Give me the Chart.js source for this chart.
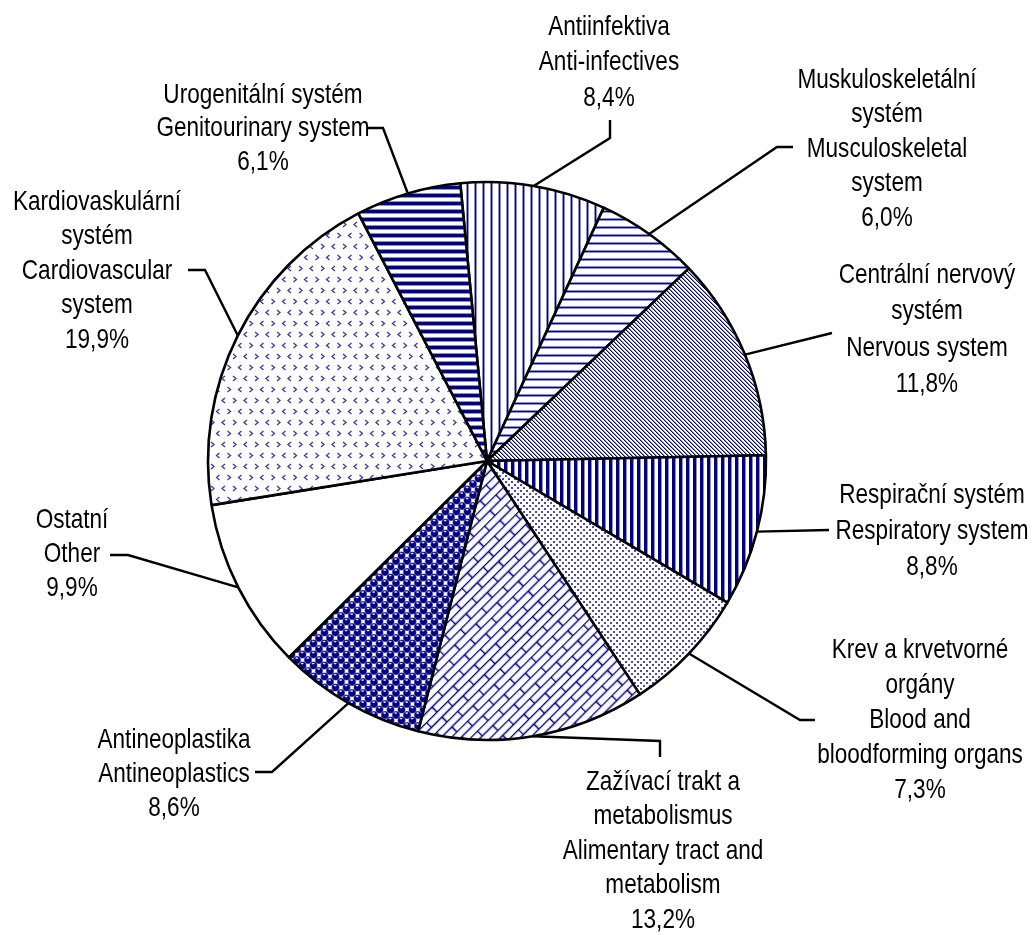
<!DOCTYPE html>
<html>
<head>
<meta charset="utf-8">
<script src="https://cdn.jsdelivr.net/npm/chart.js@4.4.1/dist/chart.umd.min.js"></script>
<style>
html,body{margin:0;padding:0;background:#fff;}
#wrap{width:1036px;height:935px;position:relative;}
</style>
</head>
<body>
<div id="wrap"><canvas id="c" width="1036" height="935"></canvas></div>
<script>
// ---- DATA ----
const categories = [
  'Antiinfektiva\nAnti-infectives',
  'Muskuloskeletální\nsystém\nMusculoskeletal\nsystem',
  'Centrální nervový\nsystém\nNervous system',
  'Respirační systém\nRespiratory system',
  'Krev a krvetvorné\norgány\nBlood and\nbloodforming organs',
  'Zažívací trakt a\nmetabolismus\nAlimentary tract and\nmetabolism',
  'Antineoplastika\nAntineoplastics',
  'Ostatní\nOther',
  'Kardiovaskulární\nsystém\nCardiovascular\nsystem',
  'Urogenitální systém\nGenitourinary system'
];
const shares = [8.4, 6.0, 11.8, 8.8, 7.3, 13.2, 8.6, 9.9, 19.9, 6.1];

// ---- LAYOUT (label placement & leader elbows) ----
const labelCenters = [
  [609, 27, 35.5], [887, 80, 34.5], [927, 275, 36.5], [932, 495, 36],
  [920, 650, 35], [663, 782, 34.5], [174, 740, 34], [72, 520, 34],
  [97, 202, 34.5], [263, 95, 33.5]
];
const leaderElbows = [
  [[610,138],[610,120]], [[777,147],[793,147]], [[832,333]], [[829,530]],
  [[800,720],[815,720]], [[660,741],[660,757]], [[272,772],[255,772]],
  [[128,555],[110,555]], [[205,270],[188,270]], [[383,128],[368,128]]
];

// ---- PATTERNS ----
const NAVY = '#000080', LIGHT = '#8f8fc8';
const canvas = document.getElementById('c');
const ctx0 = canvas.getContext('2d');
function tile(w, h, draw) {
  const c = document.createElement('canvas');
  c.width = w; c.height = h;
  const g = c.getContext('2d');
  g.fillStyle = '#fff'; g.fillRect(0, 0, w, h);
  draw(g);
  return c;
}
function pat(t, m) {
  const p = ctx0.createPattern(t, 'repeat');
  if (m) p.setTransform(m);
  return p;
}
const patterns = [
  // vertical thin
  pat(tile(8, 8, g => { g.fillStyle = NAVY; g.fillRect(3,0,1,8); g.fillStyle = LIGHT; g.fillRect(2,0,1,8); g.fillRect(4,0,1,8); })),
  // horizontal thin
  pat(tile(8, 8, g => { g.fillStyle = NAVY; g.fillRect(0,3,8,1); g.fillStyle = LIGHT; g.fillRect(0,2,8,1); g.fillRect(0,4,8,1); })),
  // diagonal "\"
  pat(tile(4, 4, g => { for (let i=0;i<4;i++){ g.fillStyle = NAVY; g.fillRect(i,i,1,1); g.fillStyle = LIGHT; g.fillRect((i+1)%4,i,1,1); } })),
  // vertical thick
  pat(tile(7, 7, g => { g.fillStyle = NAVY; g.fillRect(0,0,3,7); g.fillStyle = LIGHT; g.fillRect(3,0,1,7); })),
  // dots
  pat(tile(6, 6, g => { g.fillStyle = '#4a4aa8'; g.fillRect(1,1,2,2); g.fillRect(4,4,2,2); })),
  // bricks rotated
  pat(tile(30, 14, g => {
    g.strokeStyle = NAVY; g.lineWidth = 1.6;
    g.beginPath();
    g.moveTo(0,0.5); g.lineTo(30,0.5);
    g.moveTo(0,7.5); g.lineTo(30,7.5);
    g.moveTo(0.5,0); g.lineTo(0.5,7.5);
    g.moveTo(15.5,7.5); g.lineTo(15.5,14);
    g.stroke();
  }), new DOMMatrix().rotate(-45)),
  // spheres
  pat(tile(11, 11, g => {
    const sph = (x, y) => {
      g.fillStyle = '#6a6ab8'; g.beginPath(); g.arc(x, y, 4.0, 0, Math.PI*2); g.fill();
      g.fillStyle = NAVY; g.beginPath(); g.arc(x, y, 3.4, 0, Math.PI*2); g.fill();
      g.fillStyle = '#d8d8f4'; g.beginPath(); g.ellipse(x-0.4, y-1.9, 1.5, 0.8, 0, 0, Math.PI*2); g.fill();
    };
    for (const [x,y] of [[0,0],[11,0],[0,11],[11,11],[5.5,5.5]]) sph(x, y);
  })),
  // white
  '#ffffff',
  // divot
  pat(tile(22, 22, g => {
    g.strokeStyle = '#3a3aa6'; g.lineWidth = 1.3;
    const lt = (x,y)=>{ g.beginPath(); g.moveTo(x+3,y); g.lineTo(x,y+2.5); g.lineTo(x+3,y+5); g.stroke(); };
    const gt = (x,y)=>{ g.beginPath(); g.moveTo(x,y); g.lineTo(x+3,y+2.5); g.lineTo(x,y+5); g.stroke(); };
    lt(2,2); gt(13,2); gt(7.5,13); lt(18.5,13);
  })),
  // horizontal thick
  pat(tile(8, 8, g => { g.fillStyle = NAVY; g.fillRect(0,2,8,3); g.fillStyle = LIGHT; g.fillRect(0,1,8,1); g.fillRect(0,5,8,1); }))
];

// ---- FONT ----
function narrowAvailable() {
  const s = 'abcdefghijklmnopqrstuvwxyz';
  ctx0.font = '28px monospace';
  const w1 = ctx0.measureText(s).width;
  ctx0.font = '28px "Liberation Sans Narrow", monospace';
  const w2 = ctx0.measureText(s).width;
  return Math.abs(w1 - w2) > 0.5;
}
const HAS_NARROW = narrowAvailable();
function drawLabel(ctx, str, x, y) {
  ctx.save();
  ctx.fillStyle = '#000';
  ctx.textAlign = 'center';
  ctx.textBaseline = 'middle';
  if (HAS_NARROW) {
    ctx.font = '27.5px "Liberation Sans Narrow", "Arial Narrow", sans-serif';
    ctx.fillText(str, x, y);
  } else {
    ctx.translate(x, y);
    ctx.scale(0.82, 1);
    ctx.font = '27.5px "Liberation Sans", Arial, sans-serif';
    ctx.fillText(str, 0, 0);
  }
  ctx.restore();
}

const labelPlugin = {
  id: 'outsideLabels',
  afterDatasetsDraw(chart) {
    const ctx = chart.ctx;
    const meta = chart.getDatasetMeta(0);
    meta.data.forEach((arc, i) => {
      const mid = (arc.startAngle + arc.endAngle) / 2;
      const ax = arc.x + Math.cos(mid) * arc.outerRadius;
      const ay = arc.y + Math.sin(mid) * arc.outerRadius;
      ctx.save();
      ctx.strokeStyle = '#000';
      ctx.lineWidth = 2.4;
      ctx.lineJoin = 'miter';
      ctx.beginPath();
      ctx.moveTo(ax, ay);
      leaderElbows[i].forEach(p => ctx.lineTo(p[0], p[1]));
      ctx.stroke();
      ctx.restore();
      const [cx, cy, lh] = labelCenters[i];
      const lines = chart.data.labels[i].split('\n');
      lines.push(shares[i].toFixed(1).replace('.', ',') + '%');
      lines.forEach((ln, k) => drawLabel(ctx, ln, cx, cy + k * lh));
    });
  }
};

new Chart(canvas, {
  type: 'pie',
  data: {
    labels: categories,
    datasets: [{
      data: shares,
      backgroundColor: patterns,
      borderColor: '#000',
      borderWidth: 2.6,
      radius: 279
    }]
  },
  options: {
    responsive: false,
    animation: false,
    rotation: -5.5,
    layout: { padding: { left: 0, top: 0, right: 62, bottom: 13 } },
    plugins: { legend: { display: false }, tooltip: { enabled: false } }
  },
  plugins: [labelPlugin]
});
</script>
</body>
</html>
